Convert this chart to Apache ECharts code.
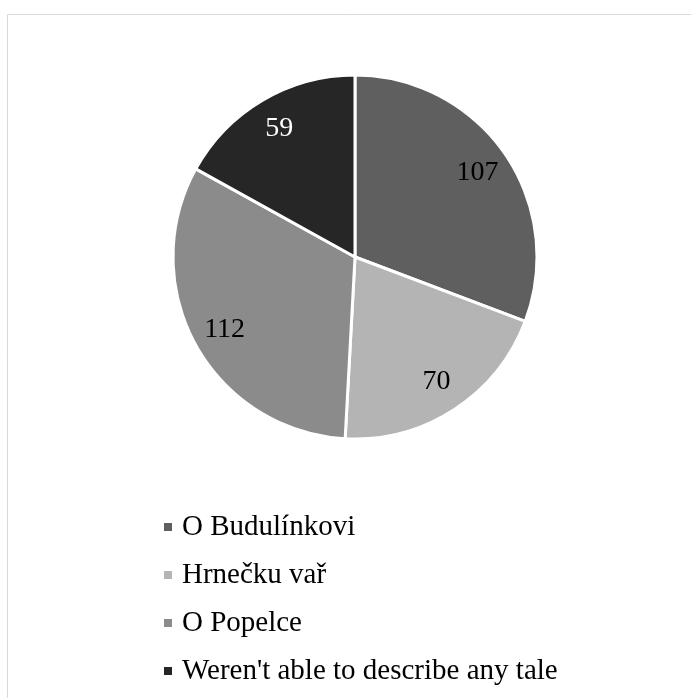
<!DOCTYPE html>
<html>
<head>
<meta charset="utf-8">
<script src="https://cdn.jsdelivr.net/npm/echarts@6/dist/echarts.min.js"></script>
<style>
  html, body { margin: 0; padding: 0; background: #fff; }
  #chart { width: 691px; height: 698px; }
</style>
</head>
<body>
<div id="chart"></div>
<script>
// Which tale the children could describe
const categories = ['O Budulínkovi', 'Hrnečku vař', 'O Popelce', "Weren't able to describe any tale"];
const counts = [107, 70, 112, 59];
const sliceColors = ['#5f5f5f', '#b4b4b4', '#8b8b8b', '#262626'];
const labelColors = ['#000', '#000', '#000', '#fff'];

const pieData = categories.map((name, i) => ({
  name, value: counts[i], itemStyle: { color: sliceColors[i] }
}));
const labelData = categories.map((name, i) => ({
  name, value: counts[i], label: { color: labelColors[i] }
}));

const chart = echarts.init(document.getElementById('chart'));
chart.setOption({
  animation: false,
  graphic: [{
    type: 'rect',
    shape: { x: 7.5, y: 14.5, width: 720, height: 720 },
    style: { fill: 'none', stroke: '#d9d9d9', lineWidth: 1 },
    silent: true
  }],
  legend: {
    data: categories,
    orient: 'vertical',
    left: 162,
    top: 512,
    padding: 0,
    icon: 'rect',
    itemWidth: 10,
    itemHeight: 10,
    itemGap: 18,
    selectedMode: false,
    textStyle: {
      fontFamily: 'Liberation Serif', fontSize: 29, color: '#000',
      lineHeight: 30, padding: [0, 0, 0, 4]
    }
  },
  series: [
    {
      type: 'pie',
      center: [355, 257],
      radius: [0, 182],
      startAngle: 90,
      clockwise: true,
      label: { show: false },
      labelLine: { show: false },
      itemStyle: { borderColor: '#fff', borderWidth: 3 },
      emphasis: { disabled: true },
      data: pieData
    },
    {
      // transparent ring that carries the value labels
      type: 'pie',
      center: [355, 257],
      radius: [110, 182],
      startAngle: 90,
      clockwise: true,
      silent: true,
      itemStyle: { color: 'rgba(0,0,0,0)' },
      label: {
        show: true,
        position: 'inside',
        formatter: '{c}',
        fontFamily: 'Liberation Serif',
        fontSize: 28,
        padding: [7, 0, 0, 0]
      },
      labelLine: { show: false },
      emphasis: { disabled: true },
      data: labelData
    }
  ]
});
</script>
</body>
</html>
